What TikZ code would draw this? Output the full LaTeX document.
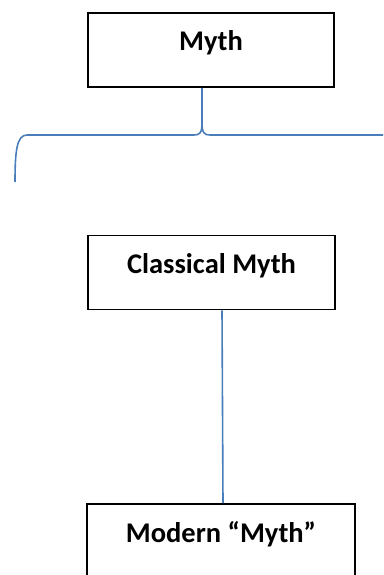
\documentclass[tikz,border=0pt]{standalone}
\usepackage{fontspec}
\setmainfont{Carlito}
\definecolor{connblue}{HTML}{4A7EBB}
\tikzset{
  mybox/.style={draw=black, line width=1.8pt, fill=white, minimum width=#1, minimum height=74pt,
    inner sep=0pt, text height=18pt, text depth=16pt,
    font=\fontsize{28.5}{34}\selectfont\bfseries},
  conn/.style={draw=connblue, line width=1.6pt}
}
\begin{document}
\begin{tikzpicture}[x=1pt,y=-1pt]
\useasboundingbox (0,0) rectangle (383,575);
\clip (0,0) rectangle (383,575);
\node[mybox=246pt] (myth) at (211,50) {Myth};
\node[mybox=247pt] (classical) at (211.5,272.5) {Classical Myth};
\node[mybox=268pt] (modern) at (221,541) {Modern “Myth”};
\coordinate (split) at (202,122);
\coordinate (lend) at (15,182);
\coordinate (rend) at (384,135);
\draw[conn] (myth.south -| split) -- (split)
  .. controls (202,133) and (200,135) .. (194,135) -- (27,135)
  .. controls (17,135) and (15,150) .. (lend);
\draw[conn] (split) .. controls (202,133) and (204,135) .. (210,135) -- (rend);
\draw[conn] ([xshift=10.5pt]classical.south) -- ([xshift=2pt]modern.north);
\end{tikzpicture}
\end{document}
